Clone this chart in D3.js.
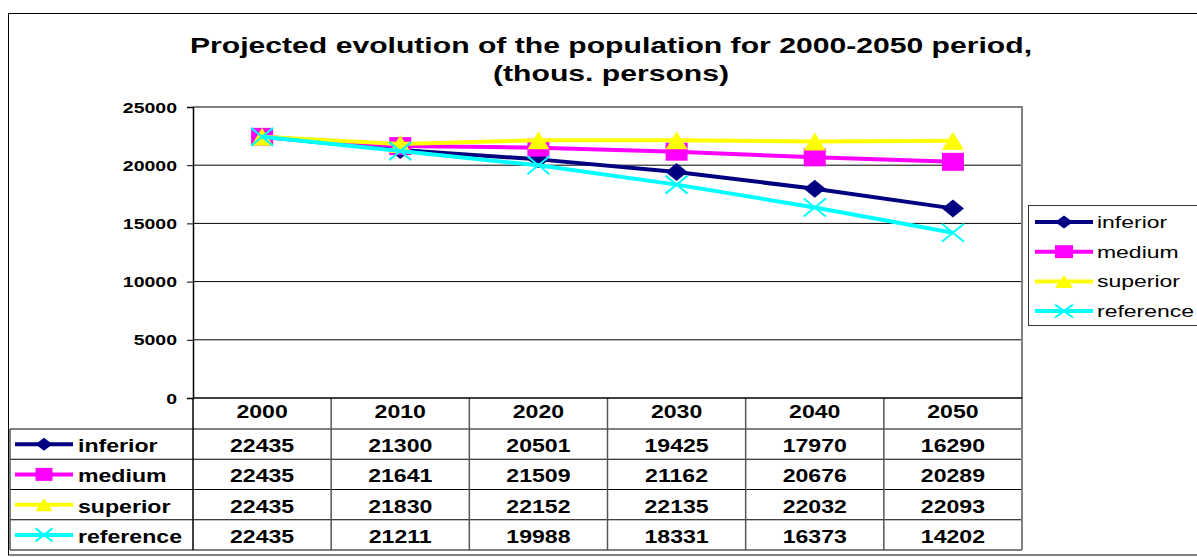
<!DOCTYPE html>
<html>
<head>
<meta charset="utf-8">
<script src="https://cdn.jsdelivr.net/npm/d3@7"></script>
<style>
  html, body { margin: 0; padding: 0; background: #fff; }
  svg { display: block; }
  text { font-family: "Liberation Sans", Arial, sans-serif; fill: #000; }
</style>
</head>
<body>
<svg id="chart" width="1197" height="557"></svg>
<script>
const categories = ["2000", "2010", "2020", "2030", "2040", "2050"];
const seriesNames = ["inferior", "medium", "superior", "reference"];
const inferior  = [22435, 21300, 20501, 19425, 17970, 16290];
const medium    = [22435, 21641, 21509, 21162, 20676, 20289];
const superior  = [22435, 21830, 22152, 22135, 22032, 22093];
const reference = [22435, 21211, 19988, 18331, 16373, 14202];
const yTicks = [0, 5000, 10000, 15000, 20000, 25000];
const titleLines = ["Projected evolution of the population for 2000-2050 period,", "(thous. persons)"];

const seriesValues = [inferior, medium, superior, reference];
const colors = ["#000080", "#FF00FF", "#FFFF00", "#00FFFF"];
const shapes = ["diamond", "square", "triangle", "cross"];

const svg = d3.select("#chart");
const SX = 1.32;

// frame
svg.append("rect").attr("x", 8.5).attr("y", 13.5).attr("width", 1220).attr("height", 541.5)
  .attr("fill", "#fff").attr("stroke", "#000").attr("stroke-width", 1);

// title
const titleY = [53, 81];
titleLines.forEach((t, i) => {
  svg.append("text")
    .attr("transform", `translate(611,${titleY[i]}) scale(1.37,1)`)
    .attr("text-anchor", "middle")
    .attr("font-size", 22).attr("font-weight", "bold")
    .text(t);
});

const plot = { left: 193, right: 1022, top: 107, bottom: 398 };
const x = d3.scaleBand().domain(categories).range([plot.left, plot.right]);
const y = d3.scaleLinear().domain([0, 25000]).range([plot.bottom, plot.top]);
const cx = c => x(c) + x.bandwidth() / 2;

// gridlines
svg.append("g").selectAll("line").data(yTicks.filter(v => v > 0 && v < 25000)).join("line")
  .attr("x1", plot.left).attr("x2", plot.right)
  .attr("y1", d => y(d)).attr("y2", d => y(d))
  .attr("stroke", "#000").attr("stroke-width", 1);

// top border & right border (gray)
svg.append("line").attr("x1", plot.left).attr("x2", plot.right + 1)
  .attr("y1", y(25000)).attr("y2", y(25000)).attr("stroke", "#808080").attr("stroke-width", 2);

// y axis
const yAxis = d3.axisLeft(y).tickValues(yTicks).tickSize(6).tickPadding(10).tickFormat(d3.format("d"));
const gy = svg.append("g").attr("transform", `translate(${plot.left},0)`).call(yAxis);
gy.select(".domain").attr("stroke", "#000").attr("stroke-width", 1.5);
gy.selectAll(".tick line").attr("stroke", "#000");
gy.selectAll(".tick text")
  .attr("x", null).attr("dy", null)
  .attr("transform", "translate(-16,5) scale(1.3,1)")
  .attr("font-size", 15).attr("font-weight", "bold")
  .attr("font-family", "Liberation Sans, Arial, sans-serif").attr("fill", "#000");

// table
const tableTop = 429, rowH = 30.25, tableLeft = 10;
const tableBottom = tableTop + rowH * seriesNames.length;
const tg = svg.append("g");
// horizontal lines
d3.range(seriesNames.length + 1).forEach(i => {
  tg.append("line").attr("x1", tableLeft).attr("x2", plot.right)
    .attr("y1", tableTop + i * rowH).attr("y2", tableTop + i * rowH)
    .attr("stroke", "#000").attr("stroke-width", 1);
});
// vertical lines (column boundaries)
categories.slice(1).forEach(c => {
  tg.append("line").attr("x1", x(c)).attr("x2", x(c))
    .attr("y1", plot.bottom).attr("y2", tableBottom)
    .attr("stroke", "#555").attr("stroke-width", 1.5);
});
tg.append("line").attr("x1", plot.left).attr("x2", plot.left)
  .attr("y1", plot.bottom).attr("y2", tableBottom).attr("stroke", "#000").attr("stroke-width", 1.5);
tg.append("line").attr("x1", tableLeft).attr("x2", tableLeft)
  .attr("y1", tableTop).attr("y2", tableBottom).attr("stroke", "#555").attr("stroke-width", 1.5);
// right border of plot + table
svg.append("line").attr("x1", plot.right).attr("x2", plot.right)
  .attr("y1", plot.top - 1).attr("y2", tableBottom).attr("stroke", "#808080").attr("stroke-width", 2);
// zero line
svg.append("line").attr("x1", plot.left).attr("x2", plot.right)
  .attr("y1", plot.bottom).attr("y2", plot.bottom).attr("stroke", "#000").attr("stroke-width", 1.5);

// header
tg.selectAll("text.hdr").data(categories).join("text").attr("class", "hdr")
  .attr("transform", d => `translate(${cx(d)},418) scale(${SX},1)`)
  .attr("text-anchor", "middle").attr("font-size", 17.5).attr("font-weight", "bold")
  .text(d => d);

// marker shape paths
function shapePath(type, w, h) {
  const a = w / 2, b = h / 2;
  if (type === "diamond") return `M0,${-b}L${a},0L0,${b}L${-a},0Z`;
  if (type === "square") return `M${-a},${-b}H${a}V${b}H${-a}Z`;
  if (type === "triangle") return `M0,${-b}L${a},${b}H${-a}Z`;
  return `M${-a},${-b}L${a},${b}M${a},${-b}L${-a},${b}`;
}
function drawMarker(g, type, color, px, py, w, h) {
  const p = g.append("path").attr("d", shapePath(type, w, h)).attr("transform", `translate(${px},${py})`);
  if (type === "cross") p.attr("fill", "none").attr("stroke", color).attr("stroke-width", 2);
  else p.attr("fill", color).attr("stroke", "none");
}

// rows
seriesNames.forEach((name, i) => {
  const top = tableTop + i * rowH;
  const mid = top + rowH / 2;
  tg.append("line").attr("x1", 15).attr("x2", 73).attr("y1", mid).attr("y2", mid)
    .attr("stroke", colors[i]).attr("stroke-width", 4);
  drawMarker(tg, shapes[i], colors[i], 44, mid, 17, 13);
  tg.append("text").attr("transform", `translate(78,${top + 23}) scale(${SX},1)`)
    .attr("font-size", 17.5).attr("font-weight", "bold").text(name);
  tg.selectAll(null).data(seriesValues[i]).join("text")
    .attr("transform", (d, j) => `translate(${cx(categories[j])},${top + 23}) scale(${SX},1)`)
    .attr("text-anchor", "middle").attr("font-size", 17.5).attr("font-weight", "bold")
    .text(d => d);
});

// series lines & markers
const line = d3.line().x((d, j) => cx(categories[j])).y(d => y(d));
seriesNames.forEach((name, i) => {
  const g = svg.append("g");
  g.append("path").datum(seriesValues[i]).attr("d", line)
    .attr("fill", "none").attr("stroke", colors[i]).attr("stroke-width", 4)
    .attr("stroke-linejoin", "round");
  seriesValues[i].forEach((v, j) => drawMarker(g, shapes[i], colors[i], cx(categories[j]), y(v), 22, 18));
});

// legend
const lg = svg.append("g");
lg.append("rect").attr("x", 1028.5).attr("y", 205.5).attr("width", 200).attr("height", 120)
  .attr("fill", "#fff").attr("stroke", "#333").attr("stroke-width", 1);
seriesNames.forEach((name, i) => {
  const ly = 222 + i * 29.7;
  lg.append("line").attr("x1", 1035).attr("x2", 1093).attr("y1", ly).attr("y2", ly)
    .attr("stroke", colors[i]).attr("stroke-width", 4);
  drawMarker(lg, shapes[i], colors[i], 1064, ly, 18, 13);
  lg.append("text").attr("transform", `translate(1097,${ly + 6}) scale(1.35,1)`)
    .attr("font-size", 17).text(name);
});
</script>
</body>
</html>
